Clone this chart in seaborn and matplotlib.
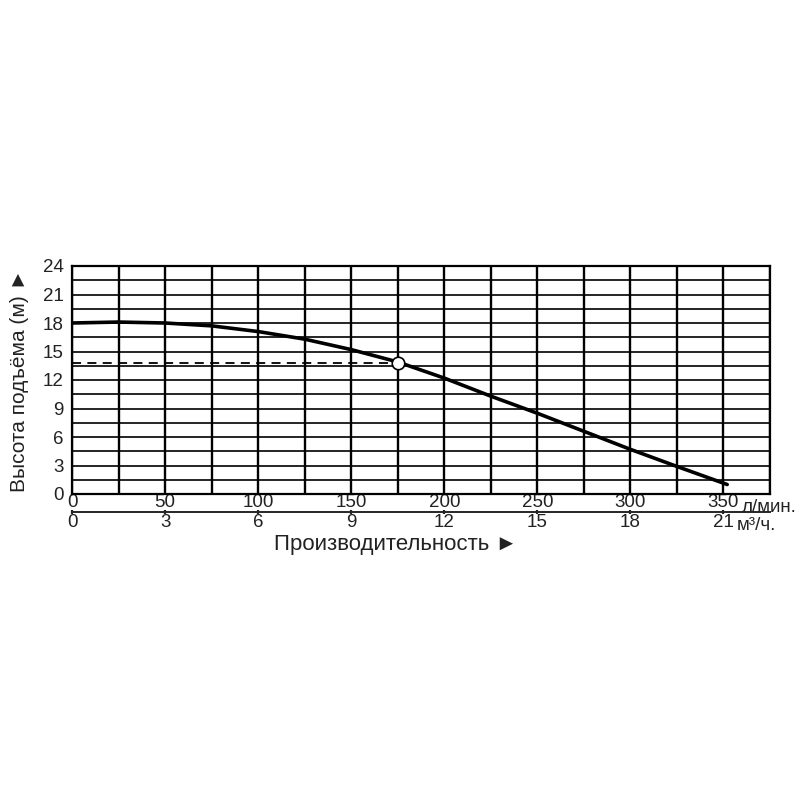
import matplotlib
matplotlib.use("Agg")
import matplotlib.pyplot as plt
import seaborn as sns
import pandas as pd
from matplotlib.ticker import MultipleLocator

# кривая насоса: расход (л/мин) -> напор (м)
flow_lpm = [0, 25, 50, 75, 100, 125, 150, 175, 200, 225, 250, 275, 300, 325, 352]
head_m = [18.0, 18.1, 18.0, 17.7, 17.1, 16.3, 15.2, 13.9, 12.2, 10.3, 8.5, 6.6, 4.7, 2.9, 1.0]

# рабочая точка
point_flow = 175
point_head = 13.8

x_ticks_lpm = [0, 50, 100, 150, 200, 250, 300, 350]
x_ticks_m3h = [0, 3, 6, 9, 12, 15, 18, 21]
y_ticks = [0, 3, 6, 9, 12, 15, 18, 21, 24]

sns.set_style("white")
plt.rcParams['font.family'] = ['Liberation Sans', 'DejaVu Sans']
plt.rcParams['font.size'] = 13.5

df = pd.DataFrame({"flow": flow_lpm, "head": head_m})

fig = plt.figure(figsize=(8, 8), dpi=100)
ax = fig.add_axes([0.09, 0.3825, 0.8725, 0.285])

ax.set_xlim(0, 375)
ax.set_ylim(0, 24)
ax.xaxis.set_minor_locator(MultipleLocator(25))
ax.yaxis.set_minor_locator(MultipleLocator(1.5))
ax.set_xticks(x_ticks_lpm)
ax.set_yticks(y_ticks)
ax.grid(True, axis="x", which="both", color="black", linewidth=1.7)
ax.grid(True, axis="y", which="both", color="black", linewidth=1.2)
ax.set_axisbelow(True)
ax.tick_params(axis="both", which="both", length=0, colors="#222222")
ax.tick_params(axis="y", pad=6)
ax.tick_params(axis="x", pad=0)
for s in ax.spines.values():
    s.set_color("black")
    s.set_linewidth(1.6)

# пунктир к рабочей точке
ax.plot([0, point_flow], [point_head, point_head], ls=(0, (5, 3.5)), color="black", lw=1.3, zorder=3)
ax.plot([point_flow, point_flow], [0, point_head], ls=(0, (5, 3.5)), color="black", lw=1.3, zorder=3)

sns.lineplot(data=df, x="flow", y="head", ax=ax, color="black", linewidth=2.6, zorder=4)
ax.plot([point_flow], [point_head], marker="o", markersize=9, markerfacecolor="white",
        markeredgecolor="black", markeredgewidth=1.2, zorder=5)

ax.set_xlabel("")
ax.set_ylabel("Высота подъёма (м) ►", fontsize=15, labelpad=10, color="#222222")

# вторая шкала в м³/ч
sec = ax.secondary_xaxis(-0.079, functions=(lambda x: x * 0.06, lambda x: x / 0.06))
sec.set_xticks(x_ticks_m3h)
sec.tick_params(axis="x", length=3, width=1.6, direction="inout", pad=0, colors="#222222")
sec.spines["bottom"].set_linewidth(1.4)

ax.text(360, -0.02, "л/мин.", transform=ax.get_xaxis_transform(), ha="left", va="top", fontsize=13.5, color="#222222")
ax.text(357, -0.1, "м³/ч.", transform=ax.get_xaxis_transform(), ha="left", va="top", fontsize=13.5, color="#222222")
ax.text(0.464, -0.175, "Производительность ►", transform=ax.transAxes, ha="center", va="top", fontsize=16, color="#222222")

fig.savefig("out.png", dpi=100, facecolor="white")
